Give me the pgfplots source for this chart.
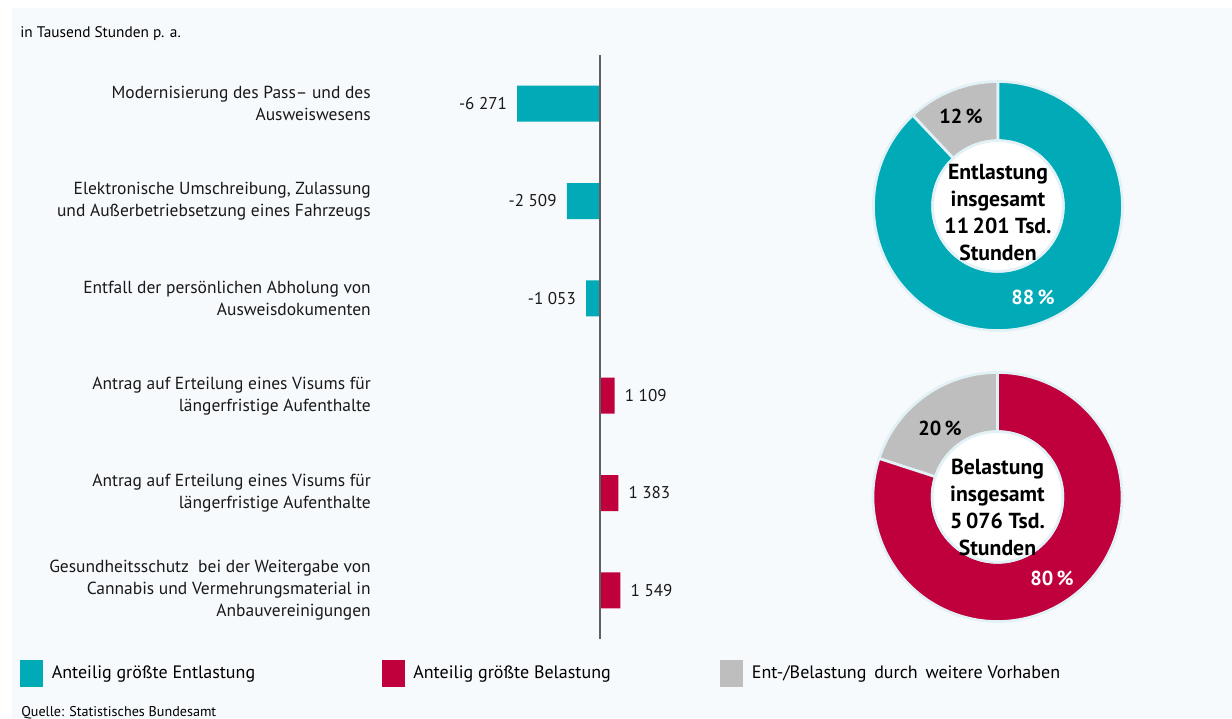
\documentclass[border=0pt]{standalone}
\usepackage{fontspec}
\setmainfont{PT Sans}
\usepackage{pgfplots}
\pgfplotsset{compat=1.18}
\definecolor{tealc}{RGB}{0,170,182}
\definecolor{redc}{RGB}{192,0,60}
\definecolor{grayc}{RGB}{190,190,190}
\definecolor{bgc}{RGB}{247,250,253}
\definecolor{ringc}{RGB}{226,241,246}
\definecolor{axc}{RGB}{96,96,100}
\newcommand\R{93.375pt}
\newcommand\rr{49pt}
\begin{document}
\begin{tikzpicture}
\path[use as bounding box, clip] (0,0) rectangle (924pt,-538.5pt);
\fill[white] (0,0) rectangle (924pt,-538.5pt);
\fill[bgc] (9pt,-6pt) rectangle (924pt,-538.5pt);
\begin{scope}[x=0.75pt,y=-0.75pt]
\node[anchor=west, inner sep=0pt, font=\fontsize{11.5}{13}\selectfont] at (20,34) {in Tausend Stunden p. a.};
\node[anchor=west, inner sep=0pt, font=\fontsize{10.6}{12}\selectfont] at (21,713) {Quelle: Statistisches Bundesamt};
\end{scope}

% bar chart
\begin{axis}[
  at={(285pt,-479.25pt)}, anchor=south west,
  scale only axis, width=240pt, height=438pt,
  xmin=-16667, xmax=7576, ymin=-0.5, ymax=5.5, y dir=reverse,
  axis line style={draw=none}, xtick=\empty, ytick={0,...,5},
  major tick length=0pt,
  yticklabels={{Modernisierung des Pass– und des\\Ausweiswesens},
    {Elektronische Umschreibung, Zulassung\\und Außerbetriebsetzung eines Fahrzeugs},
    {Entfall der persönlichen Abholung von\\Ausweisdokumenten},
    {Antrag auf Erteilung eines Visums für\\längerfristige Aufenthalte},
    {Antrag auf Erteilung eines Visums für\\längerfristige Aufenthalte},
    {Gesundheitsschutz\ \ bei der Weitergabe von\\Cannabis und Vermehrungsmaterial in\\Anbauvereinigungen}},
  yticklabel style={align=right, font=\fontsize{13.1}{16.5}\selectfont, inner sep=0pt, xshift=-6.75pt, text=black!90},
  xbar, bar width=27pt, bar shift=0pt,
  nodes near coords, point meta=explicit symbolic,
  every node near coord/.append style={font=\fontsize{12.8}{14}\selectfont, inner sep=0pt, text=black!90},
  clip=false,
  legend columns=3,
  legend style={at={(-1.125,-0.058)}, anchor=west, draw=none, fill=none, inner sep=0pt,
    font=\fontsize{13.5}{15}\selectfont, nodes={inner sep=0pt},
    /tikz/every even column/.append style={column sep=0pt}},
]
\addplot[forget plot, fill=tealc, draw=none, every node near coord/.append style={anchor=east, xshift=-7.5pt}]
  coordinates {(-6271,0) [-6 271] (-2509,1) [-2 509] (-1053,2) [-1 053]};
\addplot[forget plot, fill=redc, draw=none, every node near coord/.append style={anchor=west, xshift=7.5pt}]
  coordinates {(1109,3) [1 109] (1383,4) [1 383] (1549,5) [1 549]};
\draw[axc, line width=1.5pt] (axis cs:0,-0.5) -- (axis cs:0,5.5);
\addlegendimage{legend image code/.code={\fill[tealc] (0pt,-9.75pt) rectangle (16.5pt,9.75pt); \path (23.25pt,0pt);}}
\addlegendentry{\makebox[247.5pt][l]{Anteilig größte Entlastung}}
\addlegendimage{legend image code/.code={\fill[redc] (0pt,-9.75pt) rectangle (16.5pt,9.75pt); \path (23.25pt,0pt);}}
\addlegendentry{\makebox[230.25pt][l]{Anteilig größte Belastung}}
\addlegendimage{legend image code/.code={\fill[grayc] (0pt,-9.75pt) rectangle (16.5pt,9.75pt); \path (23.25pt,0pt);}}
\addlegendentry{Ent-/Belastung\ \,durch\ \,weitere Vorhaben}
\end{axis}

% donut 1
\begin{axis}[
  at={(655.1pt,-247.9pt)}, anchor=south west,
  scale only axis, width=186.75pt, height=186.75pt,
  xmin=-1, xmax=1, ymin=-1, ymax=1, hide axis, clip=false]
\addplot[draw=none, forget plot] coordinates {(0,0)};
\fill[grayc, draw=ringc, line width=2pt, shift={(axis cs:0,0)}]
  (90:\R) arc[start angle=90, end angle=133.2, radius=\R] -- (133.2:\rr) arc[start angle=133.2, end angle=90, radius=\rr] -- cycle;
\fill[tealc, draw=ringc, line width=2pt, shift={(axis cs:0,0)}]
  (133.2:\R) arc[start angle=133.2, end angle=450, radius=\R] -- (450:\rr) arc[start angle=450, end angle=133.2, radius=\rr] -- cycle;
\fill[white, draw=ringc, line width=2pt] (axis cs:0,0) circle[radius=\rr];
\node[font=\bfseries\fontsize{16.3}{20.25}\selectfont, align=center, text=black] at (axis cs:0,-0.056) {Entlastung\\insgesamt\\11\,201 Tsd.\\Stunden};
\node[font=\bfseries\fontsize{15.2}{16}\selectfont, text=black] at (axis cs:-0.297,0.723) {12\,\%};
\node[font=\bfseries\fontsize{15.2}{16}\selectfont, text=white] at (axis cs:0.281,-0.731) {88\,\%};
\end{axis}

% donut 2
\begin{axis}[
  at={(654.75pt,-466.1pt)}, anchor=south west,
  scale only axis, width=186.75pt, height=186.75pt,
  xmin=-1, xmax=1, ymin=-1, ymax=1, hide axis, clip=false]
\addplot[draw=none, forget plot] coordinates {(0,0)};
\fill[grayc, draw=ringc, line width=2pt, shift={(axis cs:0,0)}]
  (90:\R) arc[start angle=90, end angle=162, radius=\R] -- (162:\rr) arc[start angle=162, end angle=90, radius=\rr] -- cycle;
\fill[redc, draw=ringc, line width=2pt, shift={(axis cs:0,0)}]
  (162:\R) arc[start angle=162, end angle=450, radius=\R] -- (450:\rr) arc[start angle=450, end angle=162, radius=\rr] -- cycle;
\fill[white, draw=ringc, line width=2pt] (axis cs:0,0) circle[radius=\rr];
\node[font=\bfseries\fontsize{16.3}{20.25}\selectfont, align=center, text=black] at (axis cs:0,-0.084) {Belastung\\insgesamt\\5\,076 Tsd.\\Stunden};
\node[font=\bfseries\fontsize{15.2}{16}\selectfont, text=black] at (axis cs:-0.462,0.554) {20\,\%};
\node[font=\bfseries\fontsize{15.2}{16}\selectfont, text=white] at (axis cs:0.438,-0.651) {80\,\%};
\end{axis}
\end{tikzpicture}
\end{document}
